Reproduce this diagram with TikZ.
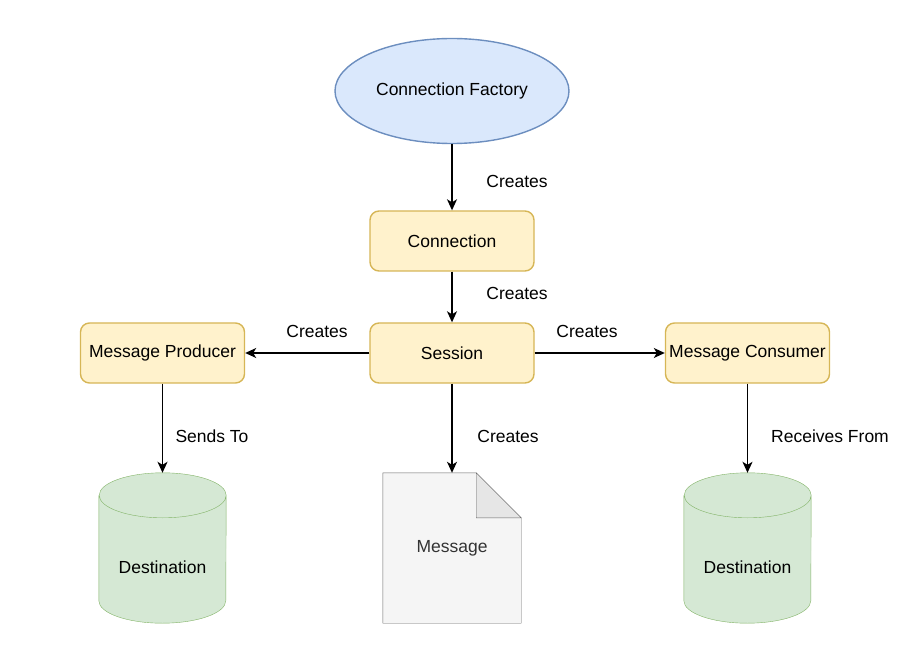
\documentclass[tikz,border=0pt]{standalone}
\usepackage{fontspec}
\setmainfont{Liberation Sans}
\usetikzlibrary{arrows.meta,shapes.geometric,backgrounds}

\definecolor{cfFill}{HTML}{DAE8FC}
\definecolor{cfLine}{HTML}{6C8EBF}
\definecolor{boxFill}{HTML}{FFF2CC}
\definecolor{boxLine}{HTML}{D6B656}
\definecolor{dstFill}{HTML}{D5E8D4}
\definecolor{dstLine}{HTML}{82B366}
\definecolor{docFill}{HTML}{F5F5F5}
\definecolor{docFold}{HTML}{E6E6E6}
\definecolor{docLine}{HTML}{666666}
\definecolor{docText}{HTML}{333333}

\begin{document}
\begin{tikzpicture}
  [x=1pt,y=-1pt,every node/.style={font=\fontsize{17.5}{21}\selectfont},
   factory/.style={ellipse,draw=cfLine,fill=cfFill,line width=1.4pt,minimum width=234pt,minimum height=105pt,inner sep=0pt},
   box/.style={rectangle,rounded corners=9pt,draw=boxLine,fill=boxFill,line width=1.4pt,minimum width=164pt,minimum height=60pt,inner sep=0pt},
   store/.style={minimum width=127pt,minimum height=150pt,inner sep=0pt},
   doc/.style={minimum width=138pt,minimum height=150pt,inner sep=0pt,text=docText},
   edge/.style={line width=1.4pt,-{Stealth[length=11pt,width=10pt,inset=3pt]}}]
  \useasboundingbox (0,0) rectangle (905,660);

  \node[factory] (cf) at (452,91) {Connection Factory};
  \node[box] (conn) at (452,241) {Connection};
  \node[box] (sess) at (452,353) {Session};
  \node[box] (prod) at (162.5,353) {Message Producer};
  \node[box] (cons) at (747.5,353) {Message Consumer};
  \node[doc] (msg) at (452,548) {Message};
  \node[store,label={[yshift=-19pt]center:Destination}] (dl) at (162.5,548) {};
  \node[store,label={[yshift=-19pt]center:Destination}] (dr) at (747.5,548) {};

  \node (l1) at (517,181) {Creates};
  \node (l2) at (517,293) {Creates};
  \node (l3) at (317,331) {Creates};
  \node (l4) at (587,331) {Creates};
  \node (l5) at (212,436) {Sends To};
  \node (l6) at (508,436) {Creates};
  \node (l7) at (830,436) {Receives From};

  % shapes behind the texts
  \begin{scope}[on background layer,line width=1.4pt]
    \foreach \c in {dl,dr}{
      \fill[dstFill] ([yshift=-22.5pt]\c.north west) -- ([yshift=22.5pt]\c.south west)
        arc[start angle=180,end angle=360,x radius=63.5pt,y radius=22.5pt]
        -- ([yshift=-22.5pt]\c.north east)
        arc[start angle=0,end angle=180,x radius=63.5pt,y radius=22.5pt] -- cycle;
      \draw[dstLine] ([yshift=-22.5pt]\c.north west) -- ([yshift=22.5pt]\c.south west)
        arc[start angle=180,end angle=360,x radius=63.5pt,y radius=22.5pt]
        -- ([yshift=-22.5pt]\c.north east)
        arc[start angle=0,end angle=360,x radius=63.5pt,y radius=22.5pt];
    }
    \draw[draw=docLine,fill=docFill] (msg.north west) -- ([xshift=-45pt]msg.north east)
      -- ([yshift=-45pt]msg.north east) -- (msg.south east) -- (msg.south west) -- cycle;
    \draw[draw=docLine,fill=docFold] ([xshift=-45pt]msg.north east)
      -- ([xshift=-45pt,yshift=-45pt]msg.north east) -- ([yshift=-45pt]msg.north east) -- cycle;
  \end{scope}

  \foreach \from/\to in {cf/conn,conn/sess,sess/prod,sess/cons,sess/msg,prod/dl,cons/dr}
    \draw[edge] (\from) -- (\to);
\end{tikzpicture}
\end{document}
